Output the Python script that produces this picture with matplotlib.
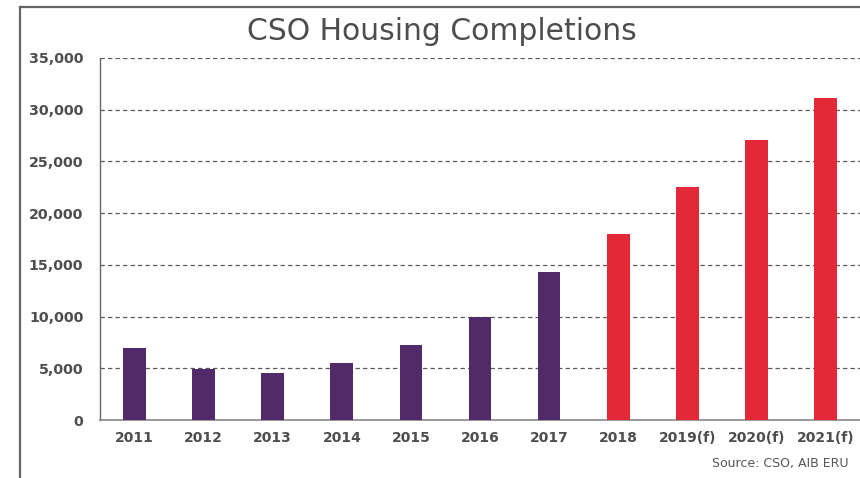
import matplotlib
matplotlib.use("Agg")
import matplotlib.pyplot as plt
from matplotlib.lines import Line2D

years = ["2011", "2012", "2013", "2014", "2015", "2016", "2017",
         "2018", "2019(f)", "2020(f)", "2021(f)"]
completions = [7000, 4950, 4580, 5480, 7220, 9950, 14350,
               18030, 22500, 27030, 31100]
forecast_start = 7  # index from which bars are drawn in red
yticks = [0, 5000, 10000, 15000, 20000, 25000, 30000, 35000]

purple = "#522a6a"
red = "#e32837"
textc = "#4d4d4d"

W, H = 860, 478
fig = plt.figure(figsize=(W / 100, H / 100), dpi=100)
ax = fig.add_axes([100 / W, 1 - 420 / H, 760 / W, 362 / H])

x = list(range(len(years)))
colors = [purple if i < forecast_start else red for i in x]
ax.bar(x, completions, width=0.33, color=colors, zorder=3)

ax.set_xlim(-0.5, len(years) - 0.5)
ax.set_ylim(0, 35000)
ax.set_yticks(yticks)
ax.set_yticklabels([f"{v:,}" for v in yticks])
ax.set_xticks(x)
ax.set_xticklabels(years)

for v in yticks[1:]:
    ax.axhline(v, color="#5a5a5a", lw=0.9, ls=(0, (3.5, 2.5)), zorder=1)

for s in ["top", "right"]:
    ax.spines[s].set_visible(False)
ax.spines["left"].set_color("#666666")
ax.spines["bottom"].set_color("#888888")
ax.spines["left"].set_linewidth(1.0)
ax.spines["bottom"].set_linewidth(1.2)

ax.tick_params(axis="y", length=0, pad=12, labelsize=10.3, labelcolor=textc)
ax.tick_params(axis="x", length=0, pad=8, labelsize=10, labelcolor=textc)
for lbl in ax.get_xticklabels() + ax.get_yticklabels():
    lbl.set_fontweight("bold")

fig.text(442 / W, 1 - 31 / H, "CSO Housing Completions", ha="center", va="center",
         fontsize=21.5, color=textc)
fig.text(848 / W, 1 - 463 / H, "Source: CSO, AIB ERU", ha="right", va="center",
         fontsize=9, color="#555555")

fig.add_artist(Line2D([20 / W, 1.0], [1 - 6.5 / H, 1 - 6.5 / H], color="#666666", lw=1.6,
                      transform=fig.transFigure))
fig.add_artist(Line2D([20 / W, 20 / W], [0, 1 - 6.5 / H], color="#666666", lw=1.6,
                      transform=fig.transFigure))

fig.savefig("out.png", dpi=100)
